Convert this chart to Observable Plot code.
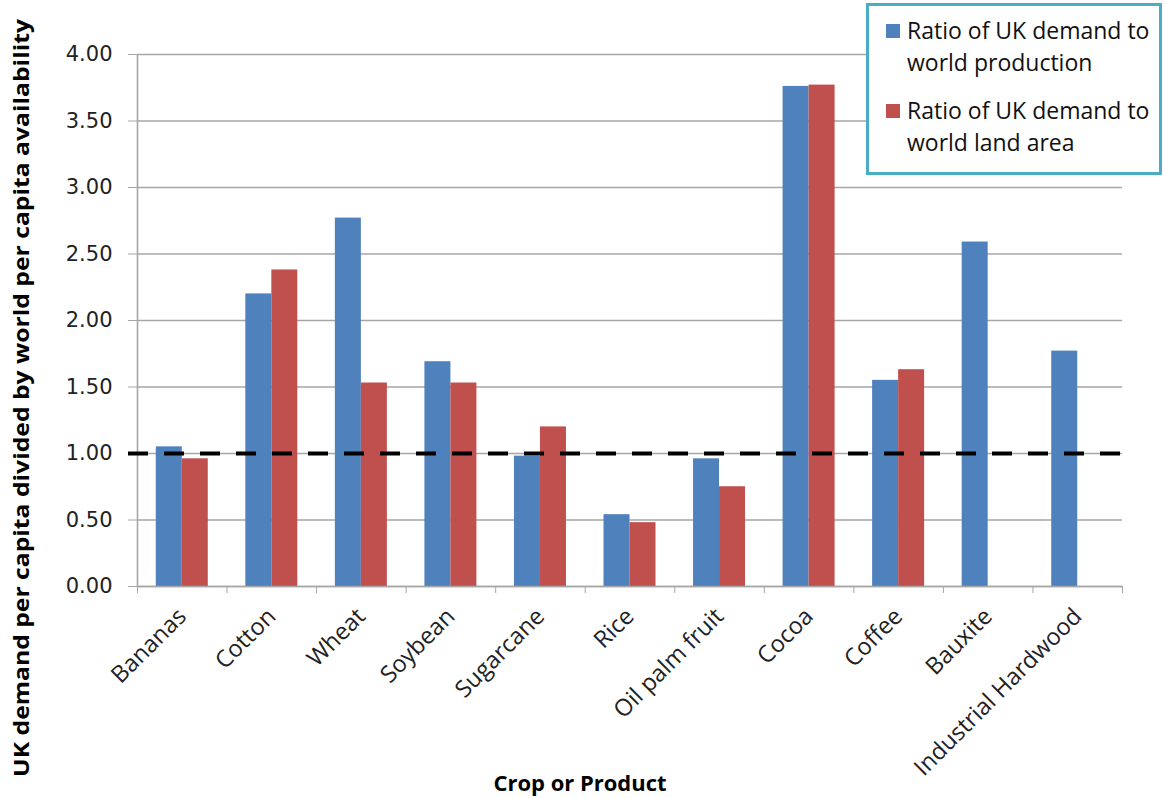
<!DOCTYPE html>
<html>
<head>
<meta charset="utf-8">
<script src="https://cdn.jsdelivr.net/npm/d3@7"></script>
<script src="https://cdn.jsdelivr.net/npm/@observablehq/plot@0.6"></script>
<style>
  html, body { margin: 0; padding: 0; background: #fff; }
  #wrap { position: relative; width: 1164px; height: 798px; overflow: hidden; }
  #legend {
    position: absolute; left: 866px; top: 3px; width: 296px; height: 172px;
    box-sizing: border-box; border: 3px solid #4BACC6; background: #fff;
    font-family: "Open Sans", sans-serif; font-size: 23px; color: #111;
  }
  .item { position: absolute; left: 38px; line-height: 32px; }
  .sw { position: absolute; left: -21px; top: 10px; width: 14px; height: 14px; }
</style>
</head>
<body>
<div id="wrap"></div>
<script>
const categories = ["Bananas", "Cotton", "Wheat", "Soybean", "Sugarcane", "Rice", "Oil palm fruit", "Cocoa", "Coffee", "Bauxite", "Industrial Hardwood"];
const production = [1.05, 2.20, 2.77, 1.69, 0.98, 0.54, 0.96, 3.76, 1.55, 2.59, 1.77];
const landArea   = [0.96, 2.38, 1.53, 1.53, 1.20, 0.48, 0.75, 3.77, 1.63, null, null];
const seriesNames = ["Ratio of UK demand to world production", "Ratio of UK demand to world land area"];
const seriesColors = ["#4F81BD", "#C0504D"];
const yTicks = [0, 0.5, 1, 1.5, 2, 2.5, 3, 3.5, 4];
const threshold = [1];

const W = 1164, H = 798;
const mL = 137, mR = 42, mT = 54, mB = 212;
const step = (W - mL - mR) / categories.length;
const barW = 26;
const outer = (step - 2 * barW) / 2;

const prodData = categories.map((c, i) => ({category: c, value: production[i]}));
const landData = categories.map((c, i) => ({category: c, value: landArea[i]})).filter(d => d.value != null);

const grid = "#A6A6A6";

const chart = Plot.plot({
  width: W, height: H,
  marginLeft: mL, marginRight: mR, marginTop: mT, marginBottom: mB,
  style: {fontFamily: "'Open Sans', sans-serif", fontSize: "21px", color: "#222", background: "#fff"},
  x: {domain: categories, padding: 0, round: false, label: null},
  y: {domain: [0, 4], label: null},
  marks: [
    Plot.gridY(yTicks, {stroke: grid, strokeOpacity: 1, strokeWidth: 1.4}),
    Plot.barY(prodData, {x: "category", y: "value", fill: seriesColors[0], insetLeft: outer, insetRight: step / 2}),
    Plot.barY(landData, {x: "category", y: "value", fill: seriesColors[1], insetLeft: step / 2, insetRight: outer}),
    Plot.ruleX([categories[0]], {dx: -step / 2, stroke: grid, strokeWidth: 1.6}),
    Plot.ruleY([0], {stroke: grid, strokeWidth: 1.6}),
    Plot.axisY({ticks: yTicks, tickFormat: d3.format(".2f"), tickSize: 9, tickPadding: 16, stroke: grid, fill: "#222",
                fontFamily: "'DejaVu Sans', sans-serif", fontSize: 21, label: null}),
    Plot.axisX({tickSize: 7, tickFormat: () => "", dx: -step / 2, stroke: grid, label: null}),
    Plot.axisX({ticks: [categories[categories.length - 1]], tickSize: 7, tickFormat: () => "", dx: step / 2, stroke: grid, label: null}),
    Plot.axisX({tickSize: 0, tickRotate: -45, tickPadding: 26, fill: "#222", fontSize: 23.5, label: null}),
    Plot.ruleY(threshold, {stroke: "#000", strokeWidth: 4, strokeDasharray: "20,16", insetLeft: -9})
  ]
});

const svg = d3.select(chart);
svg.append("text")
  .attr("transform", "translate(29,398) rotate(-90)")
  .attr("text-anchor", "middle")
  .attr("font-family", "'Open Sans', sans-serif")
  .attr("font-weight", "bold")
  .attr("font-size", 21)
  .attr("fill", "#000")
  .attr("textLength", 758)
  .attr("lengthAdjust", "spacingAndGlyphs")
  .text("UK demand per capita divided by world per capita availability");
svg.append("text")
  .attr("x", 580).attr("y", 791)
  .attr("text-anchor", "middle")
  .attr("font-family", "'Open Sans', sans-serif")
  .attr("font-weight", "bold")
  .attr("font-size", 21)
  .attr("fill", "#000")
  .attr("textLength", 173)
  .attr("lengthAdjust", "spacingAndGlyphs")
  .text("Crop or Product");

const wrap = document.getElementById("wrap");
wrap.appendChild(chart);

const legend = document.createElement("div");
legend.id = "legend";
const tops = [8, 88];
const lines = [["Ratio of UK demand to", "world production"], ["Ratio of UK demand to", "world land area"]];
seriesNames.forEach((name, i) => {
  const item = document.createElement("div");
  item.className = "item";
  item.style.top = tops[i] + "px";
  const sw = document.createElement("div");
  sw.className = "sw";
  sw.style.background = seriesColors[i];
  item.appendChild(sw);
  item.appendChild(document.createTextNode(lines[i][0]));
  item.appendChild(document.createElement("br"));
  item.appendChild(document.createTextNode(lines[i][1]));
  item.title = name;
  legend.appendChild(item);
});
wrap.appendChild(legend);
</script>
</body>
</html>
